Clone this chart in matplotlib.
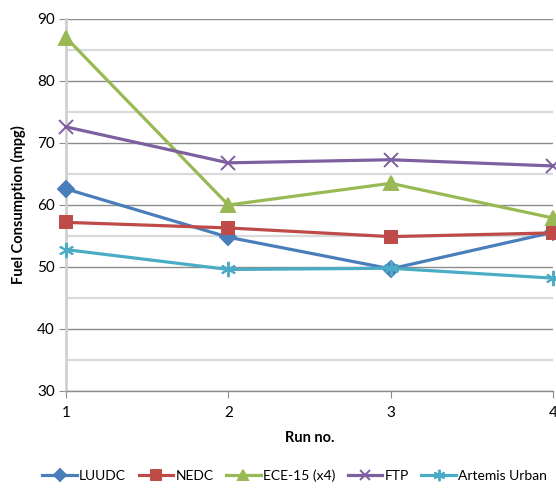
import matplotlib
matplotlib.use("Agg")
import matplotlib.pyplot as plt
from matplotlib.ticker import MultipleLocator

plt.rcParams["font.family"] = ["Lato", "DejaVu Sans"]

runs = [1, 2, 3, 4]
luudc = [62.6, 54.8, 49.7, 55.6]
nedc = [57.2, 56.3, 54.9, 55.5]
ece15 = [87.0, 60.0, 63.5, 57.9]
ftp = [72.6, 66.8, 67.3, 66.3]
artemis = [52.8, 49.6, 49.8, 48.2]

series = [
    ("LUUDC", luudc, "#4A7EBB", "D", 8),
    ("NEDC", nedc, "#BE4B48", "s", 9),
    ("ECE-15 (x4)", ece15, "#98B954", "^", 10),
    ("FTP", ftp, "#7D60A0", "x", 10),
    ("Artemis Urban", artemis, "#4BACC6", (6, 2, 0), 11),
]

fig = plt.figure(figsize=(5.56, 4.92), dpi=100)
ax = fig.add_axes([66 / 556, 101 / 492, 487 / 556, 372 / 492])

for label, vals, color, marker, ms in series:
    ax.plot(runs, vals, color=color, lw=2.3, marker=marker, markersize=ms,
            markeredgewidth=1.4, markeredgecolor=color, markerfacecolor=color,
            label=label, clip_on=False, zorder=3)

ax.set_xlim(1, 4)
ax.set_ylim(30, 90)
ax.set_xticks(runs)
ax.yaxis.set_major_locator(MultipleLocator(10))
ax.yaxis.set_minor_locator(MultipleLocator(5))
ax.grid(True, which="major", axis="y", color="#8C8C8C", lw=1.0, zorder=0)
ax.grid(True, which="minor", axis="y", color="#D9D9D9", lw=1.6, zorder=0)
ax.tick_params(axis="y", which="minor", length=0)
ax.tick_params(axis="y", which="major", length=5, color="#8C8C8C", labelsize=11, pad=3)
ax.tick_params(axis="x", length=5, color="#8C8C8C", labelsize=11, pad=6)

for side in ["top", "right"]:
    ax.spines[side].set_visible(False)
ax.spines["left"].set_color("#D0D0D0")
ax.spines["left"].set_linewidth(2.0)
ax.spines["bottom"].set_color("#8C8C8C")
ax.spines["bottom"].set_linewidth(1.0)

ax.set_ylabel("Fuel Consumption (mpg)", fontsize=10.5, fontweight="bold", labelpad=8)
ax.set_xlabel("Run no.", fontsize=10.5, fontweight="bold", labelpad=8)

fig.legend(loc="lower center", bbox_to_anchor=(0.53, -0.005), ncol=5, frameon=False,
           fontsize=10, handlelength=2.5, handletextpad=0.15, columnspacing=0.9,
           markerscale=0.75)

fig.savefig("out.png", dpi=100)
